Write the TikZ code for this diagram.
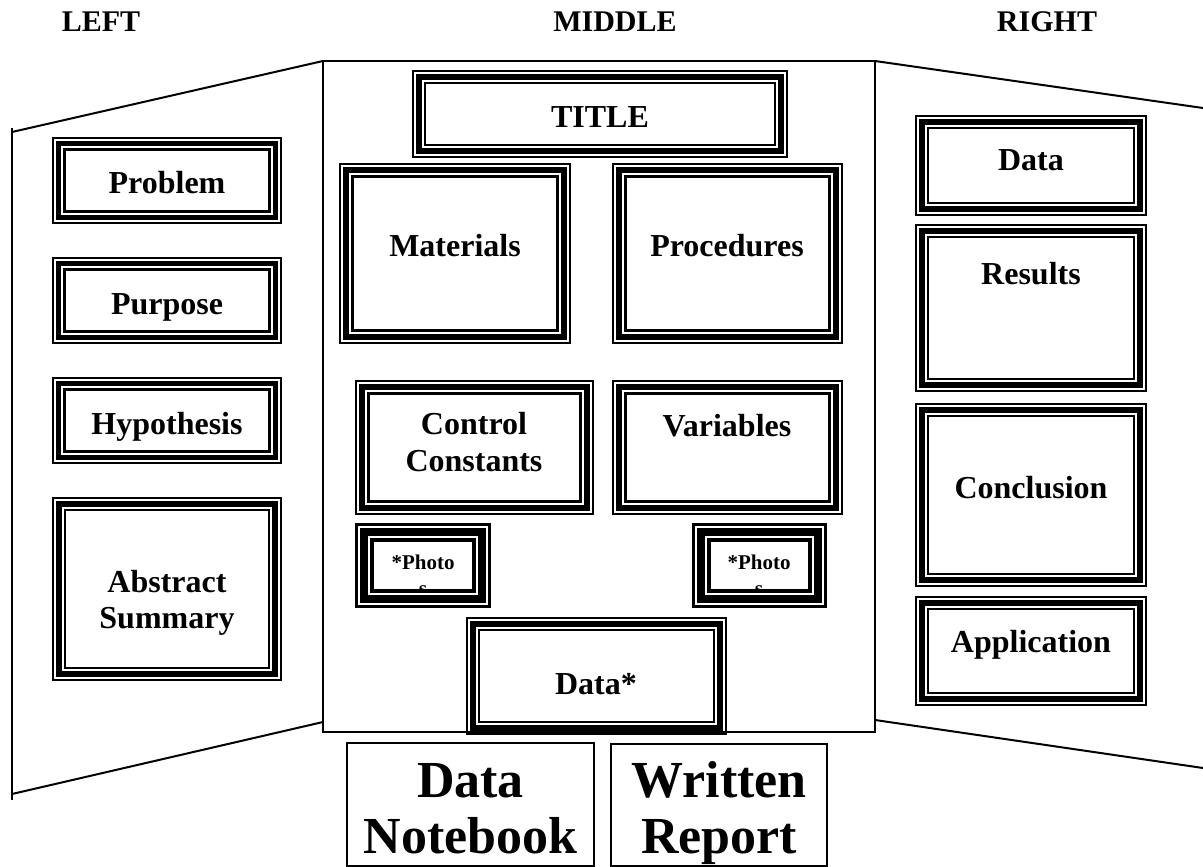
\documentclass[tikz,border=0pt]{standalone}
\usepackage{fontspec}
\setmainfont{Liberation Serif}
% #1 scale, #2 name, #3 x1, #4 y1, #5 x2, #6 y2
\newcommand\triframe[6][1]{%
  \node[boxarea,minimum width={#5-#3},minimum height={#6-#4}] (#2) at ({(#3+#5)/2},{(#4+#6)/2}) {};
  \draw[line width=#1*2pt] ([shift={(#1*1,#1*1)}]#2.north west) rectangle ([shift={(-#1*1,-#1*1)}]#2.south east);
  \draw[line width=#1*6pt] ([shift={(#1*6.8,#1*6.8)}]#2.north west) rectangle ([shift={(-#1*6.8,-#1*6.8)}]#2.south east);
  \draw[line width=#1*2.5pt] ([shift={(#1*13.05,#1*13.05)}]#2.north west) rectangle ([shift={(-#1*13.05,-#1*13.05)}]#2.south east);
}
\begin{document}
\begin{tikzpicture}[x=1pt,y=-1pt,
  boxarea/.style={inner sep=0pt,outer sep=0pt,draw=none},
  lbl/.style={font=\bfseries\fontsize{32}{37}\selectfont,anchor=base,inner sep=0pt},
  head/.style={font=\bfseries\fontsize{30}{34}\selectfont,anchor=base,inner sep=0pt},
  small/.style={font=\bfseries\fontsize{21}{24}\selectfont,anchor=base,inner sep=0pt},
  big/.style={font=\bfseries\fontsize{52}{58}\selectfont,anchor=base,inner sep=0pt},
  panel/.style={line width=2pt,line join=miter},
  plainbox/.style={draw,line width=2pt,inner sep=0pt,outer sep=0pt}]
\useasboundingbox (0,0) rectangle (1203,867);

% headers
\node[head] (hl) at (101,32) {LEFT};
\node[head] (hm) at (615,32) {MIDDLE};
\node[head] (hr) at (1047,32) {RIGHT};

% board
\coordinate (mtl) at (323,61);
\coordinate (mtr) at (875,61);
\coordinate (mbr) at (875,732);
\coordinate (ltop) at (12,132);
\coordinate (lbot) at (12,794);
\coordinate (lvt) at (12,128);
\coordinate (lvb) at (12,800);
\coordinate (lj) at (323,722);
\coordinate (rtop) at (1203,108);
\coordinate (rj) at (875,720);
\coordinate (rbot) at (1203,768);
\draw[panel] (mtl) rectangle (mbr);
\draw[panel] (mtl) -- (ltop);
\draw[panel] (lvt) -- (lvb);
\draw[panel] (lj) -- (lbot);
\draw[panel] (mtr) -- (rtop);
\draw[panel] (rj) -- (rbot);

% left panel
\triframe[0.95]{prob}{52}{137}{282}{224}
\node[lbl] (probt) at (167,193) {Problem};
\triframe[0.95]{purp}{52}{257}{282}{344}
\node[lbl] (purpt) at (167,314) {Purpose};
\triframe[0.95]{hyp}{52}{377}{282}{464}
\node[lbl] (hypt) at (167,434) {Hypothesis};
\triframe{abs}{52}{497}{282}{681}
\node[lbl] (abst) at (167,592) {Abstract};
\node[lbl] (sumt) at (167,628) {Summary};

% middle panel
\triframe{title}{412}{70}{788}{158}
\node[lbl] (titlet) at (600,127) {TITLE};
\triframe[1.05]{mat}{339}{163}{571}{344}
\node[lbl] (matt) at (455,256) {Materials};
\triframe[1.05]{proc}{612}{163}{843}{344}
\node[lbl] (proct) at (727,256) {Procedures};
\triframe[1.05]{ctrl}{355}{380}{594}{515}
\node[lbl] (ctrlt) at (474,434) {Control};
\node[lbl] (constt) at (474,471) {Constants};
\triframe[1.05]{var}{612}{380}{843}{515}
\node[lbl] (vart) at (727,436) {Variables};
\triframe[1.3]{pha}{355}{523}{491}{608}
\node[small] (phat) at (423,569) {*Photo};
\begin{scope}
  \clip ([shift={(18.6,18.6)}]pha.north west) rectangle ([shift={(-18.6,-18.6)}]pha.south east);
  \node[small] (phas) at (423,595) {s};
\end{scope}
\triframe[1.3]{phb}{692}{523}{827}{608}
\node[small] (phbt) at (759,569) {*Photo};
\begin{scope}
  \clip ([shift={(18.6,18.6)}]phb.north west) rectangle ([shift={(-18.6,-18.6)}]phb.south east);
  \node[small] (phbs) at (759,595) {s};
\end{scope}
\triframe{datas}{466}{617}{727}{735}
\node[lbl] (datast) at (596,694) {Data*};

% right panel
\triframe{data}{915}{115}{1147}{216}
\node[lbl] (datat) at (1031,170) {Data};
\triframe{res}{915}{224}{1147}{392}
\node[lbl] (rest) at (1031,284) {Results};
\triframe{conc}{915}{403}{1147}{587}
\node[lbl] (conct) at (1031,498) {Conclusion};
\triframe{app}{915}{596}{1147}{706}
\node[lbl] (appt) at (1031,652) {Application};

% bottom boxes
\node[plainbox,minimum width=247,minimum height=123] (nb) at (470.5,804.5) {};
\node[big] (nbt1) at (470.5,797) {Data};
\node[big] (nbt2) at (470.5,853) {Notebook};
\node[plainbox,minimum width=216,minimum height=122] (wr) at (719,805) {};
\node[big] (wrt1) at (719,797) {Written};
\node[big] (wrt2) at (719,853) {Report};
\end{tikzpicture}
\end{document}
